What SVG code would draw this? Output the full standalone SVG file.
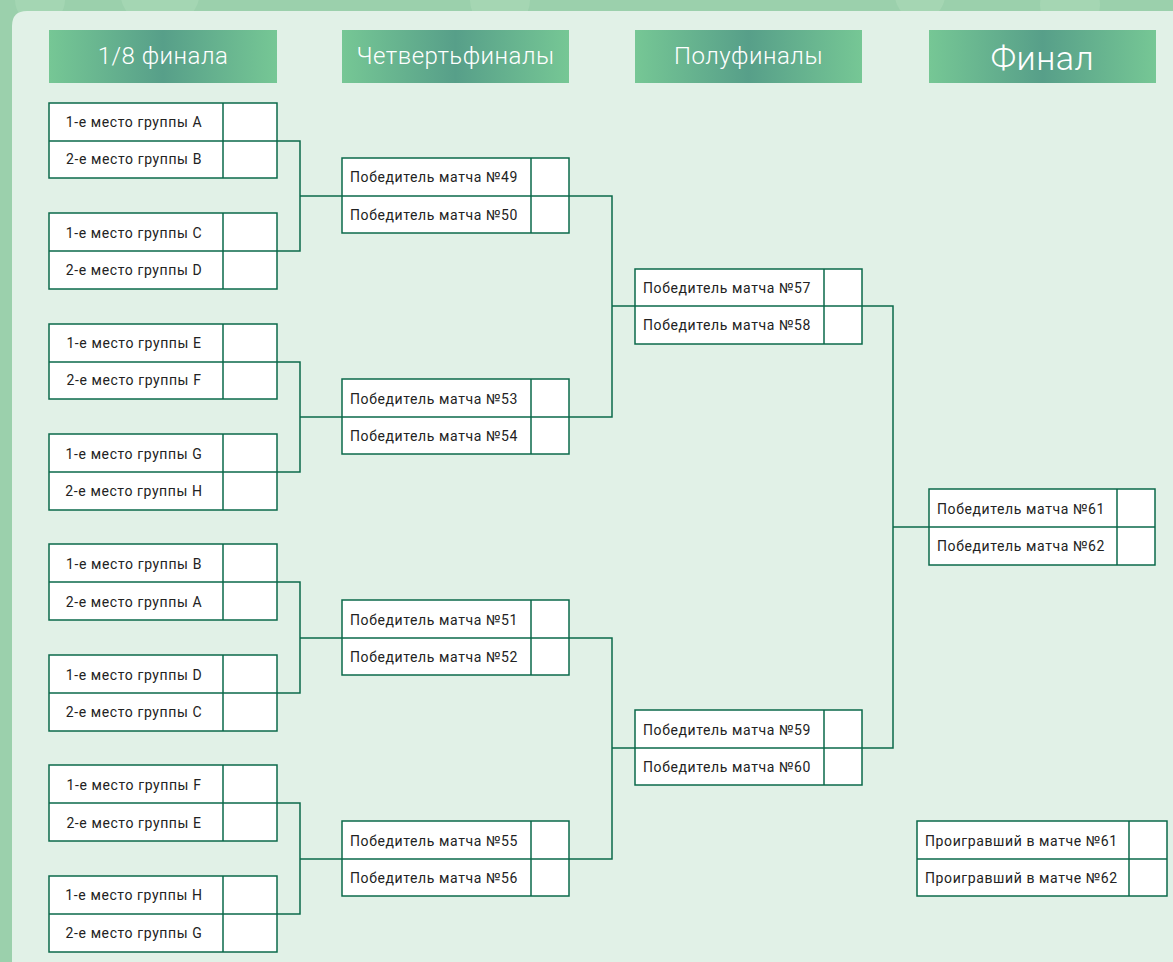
<svg xmlns="http://www.w3.org/2000/svg" width="1173" height="962" viewBox="0 0 1173 962">
<defs>
<linearGradient id="hg" x1="0" y1="0" x2="1" y2="0">
<stop offset="0" stop-color="#76c795"/>
<stop offset="0.5" stop-color="#579f89"/>
<stop offset="1" stop-color="#76c795"/>
</linearGradient>
<style>
.hd{fill:url(#hg)}
.ht{fill:#ffffff;font-family:Roboto,"Liberation Sans",sans-serif;font-weight:300;font-size:24px;text-anchor:middle;letter-spacing:0.5px}
.box{fill:#ffffff;stroke:#0b6a4b;stroke-width:1.5}
.ln{fill:none;stroke:#0b6a4b;stroke-width:1.5}
.t{fill:#222;font-family:Roboto,"Liberation Sans",sans-serif;font-size:14px;letter-spacing:0.6px}
.tc{text-anchor:middle}
</style>
</defs>
<rect width="1173" height="962" fill="#9bd0ac"/>
<g fill="#a9d9b7" opacity="0.7">
<circle cx="160" cy="-10" r="40"/><circle cx="40" cy="0" r="25"/><circle cx="1070" cy="5" r="30"/><circle cx="920" cy="-5" r="25"/><circle cx="500" cy="0" r="30"/>
</g>
<path d="M12 962 V26 Q12 11 27 11 H1173 V962 Z" fill="#e1f1e7"/>
<g id="headers">
<rect class="hd" x="49" y="30" width="228" height="53"/><text class="ht" x="163" y="64">1/8 финала</text>
<rect class="hd" x="342" y="30" width="227" height="53"/><text class="ht" x="455.5" y="64">Четвертьфиналы</text>
<rect class="hd" x="635" y="30" width="227" height="53"/><text class="ht" x="748.5" y="64">Полуфиналы</text>
<rect class="hd" x="929" y="30" width="227" height="53"/><text class="ht" x="1042.5" y="70" style="font-size:34px">Финал</text>
</g>
<g id="connectors">
<path class="ln" d="M277 141 H300 V251 H277 M300 196 H342"/>
<path class="ln" d="M277 362 H300 V472 H277 M300 417 H342"/>
<path class="ln" d="M277 582 H300 V693 H277 M300 638 H342"/>
<path class="ln" d="M277 803 H300 V914 H277 M300 859 H342"/>
<path class="ln" d="M569 196 H612 V417 H569 M612 306 H635"/>
<path class="ln" d="M569 638 H612 V859 H569 M612 748 H635"/>
<path class="ln" d="M862 306 H893 V748 H862 M893 527 H929"/>
</g>
<g id="r16-1"><rect class="box" x="49" y="103" width="228" height="75"/><path class="ln" d="M49 141 H277 M223 103 V178"/><text class="t tc" x="134" y="127">1-е место группы A</text><text class="t tc" x="134" y="164">2-е место группы B</text></g>
<g id="r16-2"><rect class="box" x="49" y="213" width="228" height="76"/><path class="ln" d="M49 251 H277 M223 213 V289"/><text class="t tc" x="134" y="238">1-е место группы C</text><text class="t tc" x="134" y="275">2-е место группы D</text></g>
<g id="r16-3"><rect class="box" x="49" y="324" width="228" height="75"/><path class="ln" d="M49 362 H277 M223 324 V399"/><text class="t tc" x="134" y="348">1-е место группы E</text><text class="t tc" x="134" y="385">2-е место группы F</text></g>
<g id="r16-4"><rect class="box" x="49" y="434" width="228" height="76"/><path class="ln" d="M49 472 H277 M223 434 V510"/><text class="t tc" x="134" y="459">1-е место группы G</text><text class="t tc" x="134" y="496">2-е место группы H</text></g>
<g id="r16-5"><rect class="box" x="49" y="544" width="228" height="76"/><path class="ln" d="M49 582 H277 M223 544 V620"/><text class="t tc" x="134" y="569">1-е место группы B</text><text class="t tc" x="134" y="607">2-е место группы A</text></g>
<g id="r16-6"><rect class="box" x="49" y="655" width="228" height="76"/><path class="ln" d="M49 693 H277 M223 655 V731"/><text class="t tc" x="134" y="680">1-е место группы D</text><text class="t tc" x="134" y="717">2-е место группы C</text></g>
<g id="r16-7"><rect class="box" x="49" y="765" width="228" height="76"/><path class="ln" d="M49 803 H277 M223 765 V841"/><text class="t tc" x="134" y="790">1-е место группы F</text><text class="t tc" x="134" y="828">2-е место группы E</text></g>
<g id="r16-8"><rect class="box" x="49" y="876" width="228" height="76"/><path class="ln" d="M49 914 H277 M223 876 V952"/><text class="t tc" x="134" y="900">1-е место группы H</text><text class="t tc" x="134" y="938">2-е место группы G</text></g>
<g id="qf-1"><rect class="box" x="342" y="158" width="227" height="75"/><path class="ln" d="M342 196 H569 M531 158 V233"/><text class="t" x="350" y="182">Победитель матча №49</text><text class="t" x="350" y="220">Победитель матча №50</text></g>
<g id="qf-2"><rect class="box" x="342" y="379" width="227" height="75"/><path class="ln" d="M342 417 H569 M531 379 V454"/><text class="t" x="350" y="404">Победитель матча №53</text><text class="t" x="350" y="441">Победитель матча №54</text></g>
<g id="qf-3"><rect class="box" x="342" y="600" width="227" height="75"/><path class="ln" d="M342 638 H569 M531 600 V675"/><text class="t" x="350" y="625">Победитель матча №51</text><text class="t" x="350" y="662">Победитель матча №52</text></g>
<g id="qf-4"><rect class="box" x="342" y="821" width="227" height="75"/><path class="ln" d="M342 859 H569 M531 821 V896"/><text class="t" x="350" y="846">Победитель матча №55</text><text class="t" x="350" y="883">Победитель матча №56</text></g>
<g id="sf-1"><rect class="box" x="635" y="269" width="227" height="75"/><path class="ln" d="M635 306 H862 M824 269 V344"/><text class="t" x="643" y="293">Победитель матча №57</text><text class="t" x="643" y="330">Победитель матча №58</text></g>
<g id="sf-2"><rect class="box" x="635" y="710" width="227" height="75"/><path class="ln" d="M635 748 H862 M824 710 V785"/><text class="t" x="643" y="735">Победитель матча №59</text><text class="t" x="643" y="772">Победитель матча №60</text></g>
<g id="final"><rect class="box" x="929" y="489" width="226" height="76"/><path class="ln" d="M929 527 H1155 M1117 489 V565"/><text class="t" x="937" y="514">Победитель матча №61</text><text class="t" x="937" y="551">Победитель матча №62</text></g>
<g id="third"><rect class="box" x="917" y="821" width="250" height="75"/><path class="ln" d="M917 859 H1167 M1129 821 V896"/><text class="t" x="925" y="846">Проигравший в матче №61</text><text class="t" x="925" y="883">Проигравший в матче №62</text></g>
</svg>
